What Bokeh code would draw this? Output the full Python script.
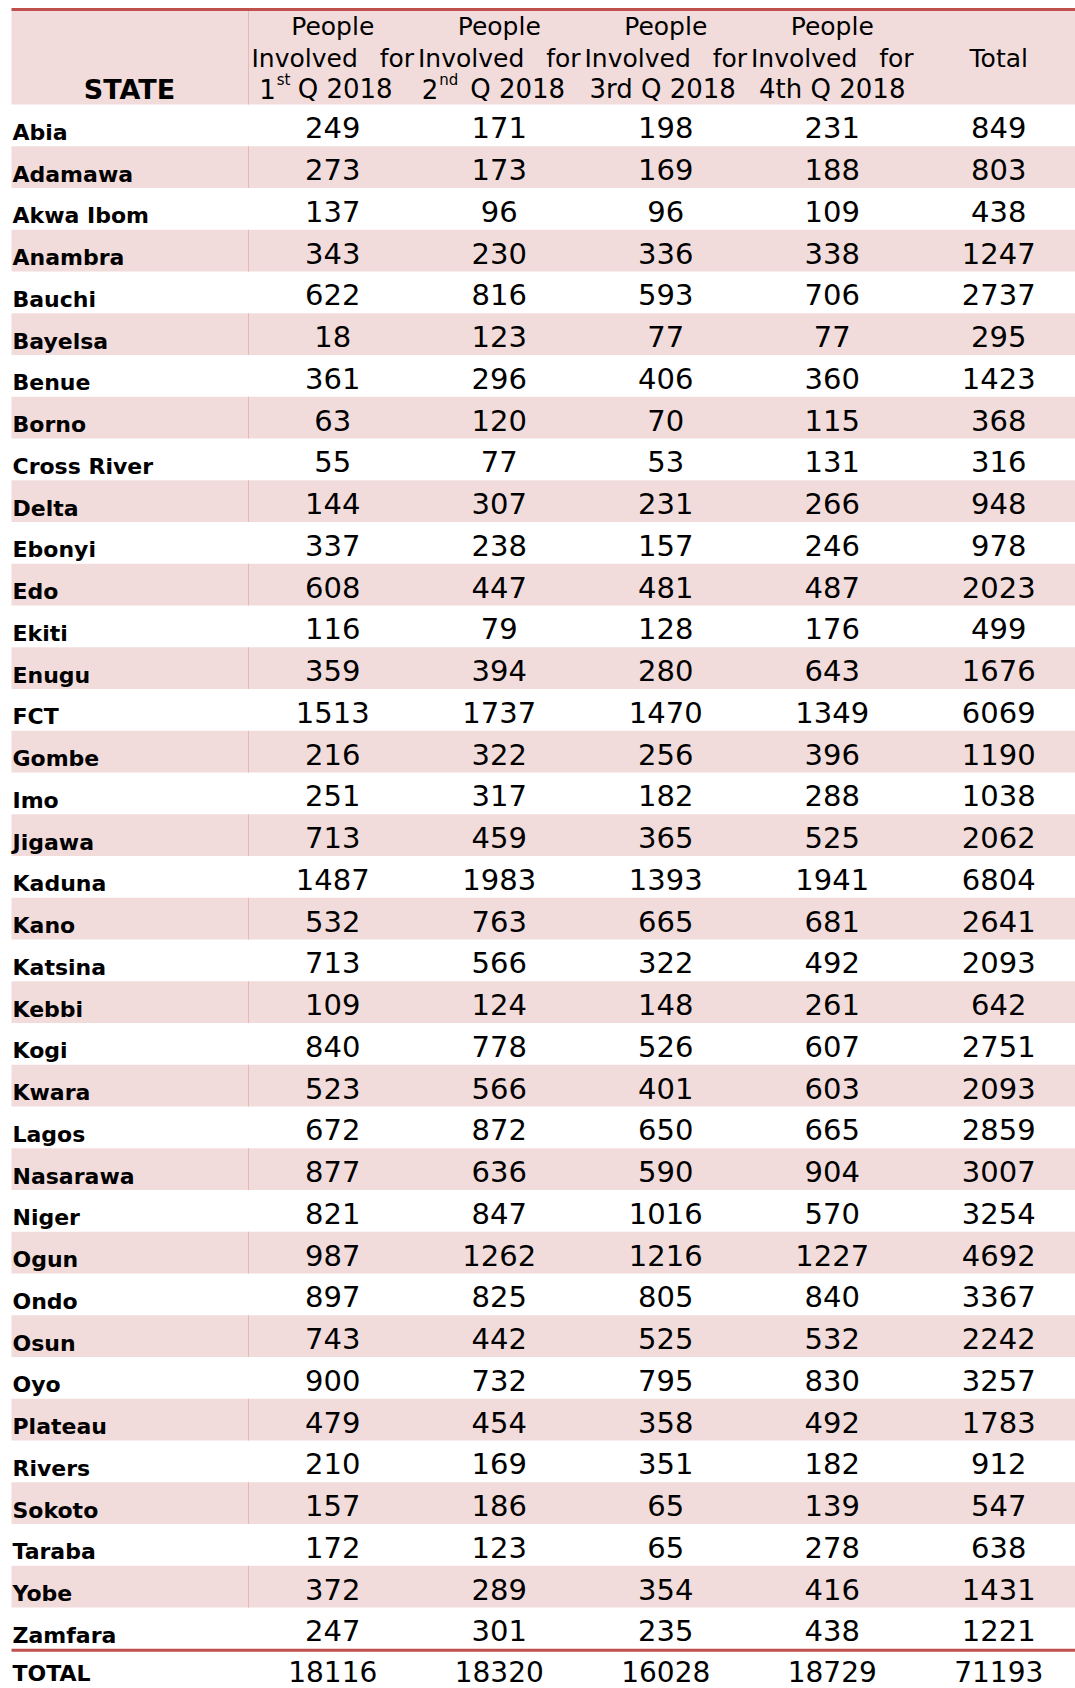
from bokeh.plotting import figure
from bokeh.models import Range1d
from bokeh.core.properties import value
from bokeh.embed import file_html
from bokeh.resources import INLINE

# ---------------- data ----------------
states = ["Abia", "Adamawa", "Akwa Ibom", "Anambra", "Bauchi", "Bayelsa", "Benue",
          "Borno", "Cross River", "Delta", "Ebonyi", "Edo", "Ekiti", "Enugu", "FCT",
          "Gombe", "Imo", "Jigawa", "Kaduna", "Kano", "Katsina", "Kebbi", "Kogi",
          "Kwara", "Lagos", "Nasarawa", "Niger", "Ogun", "Ondo", "Osun", "Oyo",
          "Plateau", "Rivers", "Sokoto", "Taraba", "Yobe", "Zamfara"]
q1 = [249, 273, 137, 343, 622, 18, 361, 63, 55, 144, 337, 608, 116, 359, 1513,
      216, 251, 713, 1487, 532, 713, 109, 840, 523, 672, 877, 821, 987, 897, 743,
      900, 479, 210, 157, 172, 372, 247]
q2 = [171, 173, 96, 230, 816, 123, 296, 120, 77, 307, 238, 447, 79, 394, 1737,
      322, 317, 459, 1983, 763, 566, 124, 778, 566, 872, 636, 847, 1262, 825, 442,
      732, 454, 169, 186, 123, 289, 301]
q3 = [198, 169, 96, 336, 593, 77, 406, 70, 53, 231, 157, 481, 128, 280, 1470,
      256, 182, 365, 1393, 665, 322, 148, 526, 401, 650, 590, 1016, 1216, 805, 525,
      795, 358, 351, 65, 65, 354, 235]
q4 = [231, 188, 109, 338, 706, 77, 360, 115, 131, 266, 246, 487, 176, 643, 1349,
      396, 288, 525, 1941, 681, 492, 261, 607, 603, 665, 904, 570, 1227, 840, 532,
      830, 492, 182, 139, 278, 416, 438]
totals = [849, 803, 438, 1247, 2737, 295, 1423, 368, 316, 948, 978, 2023, 499, 1676,
          6069, 1190, 1038, 2062, 6804, 2641, 2093, 642, 2751, 2093, 2859, 3007, 3254,
          4692, 3367, 2242, 3257, 1783, 912, 547, 638, 1431, 1221]
total_label = "TOTAL"
column_totals = [18116, 18320, 16028, 18729, 71193]

state_header = "STATE"
header_line1 = ["People", "People", "People", "People"]
header_line2_left = ["Involved", "Involved", "Involved", "Involved"]
header_line2_right = ["for", "for", "for", "for"]
total_header = "Total"
ordinal_num = ["1", "2"]
ordinal_sup = ["st", "nd"]
header_q = "Q 2018"
header_line3_plain = ["3rd  Q 2018", "4th Q 2018"]

# ---------------- styling / geometry ----------------
PINK = "#F2DCDB"
SEP = "#E6B8B7"
RED = "#C0504D"
FONT = "DejaVu Sans"
BOLD = "DejaVu Sans"

W, H = 1075, 1688
p = figure(width=W, height=H, x_range=Range1d(0, W), y_range=Range1d(H, 0),
           output_backend="svg", toolbar_location=None,
           x_axis_type=None, y_axis_type=None, min_border=0)
p.grid.visible = False
p.outline_line_color = None
p.background_fill_color = "white"
p.border_fill_color = "white"

left_edge, right_edge = 11, 1075
first_col_right = 248
n_cols = 5
col_w = 166.5
cell_left = [first_col_right + 1 + col_w * j for j in range(n_cols)]
centers = [c + col_w / 2 for c in cell_left]

head_top, head_bottom = 10, 104
rh = 41.75
n = len(states)
row_tops = [head_bottom + i * rh for i in range(n)]
row_bots = [t + rh for t in row_tops]

# header band
p.quad(left=[left_edge], right=[right_edge], top=[head_top], bottom=[head_bottom],
       fill_color=PINK, line_color=None)
# striped rows
pink_idx = [i for i in range(n) if i % 2 == 1]
p.quad(left=[left_edge] * len(pink_idx), right=[right_edge] * len(pink_idx),
       top=[row_tops[i] for i in pink_idx], bottom=[row_bots[i] for i in pink_idx],
       fill_color=PINK, line_color=None)
# first column separator inside pink bands
seg_y0 = [head_top] + [row_tops[i] for i in pink_idx]
seg_y1 = [head_bottom] + [row_bots[i] for i in pink_idx]
p.segment(x0=[first_col_right] * len(seg_y0), x1=[first_col_right] * len(seg_y0),
          y0=seg_y0, y1=seg_y1, line_color=SEP, line_width=1)

# red rules
p.segment(x0=[left_edge], x1=[right_edge], y0=[9], y1=[9], line_color=RED, line_width=3)
p.segment(x0=[left_edge], x1=[right_edge], y0=[row_bots[-1] + 1], y1=[row_bots[-1] + 1],
          line_color=RED, line_width=3)

# header text (text_baseline "middle": y is the visual centre of the line)
hs = "25px"
hs3 = "26px"
m1, m2, m3 = 26, 58, 88
p.text(x=[129], y=[m3 + 1], text=[state_header], text_align="center", text_baseline="middle",
       text_font=value(BOLD), text_font_style="bold", text_font_size="27px", text_color="black")
p.text(x=centers[:4], y=[m1] * 4, text=header_line1, text_align="center",
       text_baseline="middle", text_font=value(FONT), text_font_size=hs, text_color="black")
p.text(x=[c + 2 for c in cell_left[:4]], y=[m2] * 4, text=header_line2_left,
       text_align="left", text_baseline="middle", text_font=value(FONT),
       text_font_size=hs, text_color="black")
p.text(x=[c + col_w - 2 for c in cell_left[:4]], y=[m2] * 4,
       text=header_line2_right, text_align="right", text_baseline="middle",
       text_font=value(FONT), text_font_size=hs, text_color="black")
p.text(x=[centers[4]], y=[m2], text=[total_header], text_align="center",
       text_baseline="middle", text_font=value(FONT), text_font_size=hs, text_color="black")
# ordinals with superscripts
num_x = [centers[0] - 57, centers[1] - 61]
sup_x = [centers[0] - 56, centers[1] - 60]
q_x = [centers[0] - 35, centers[1] - 29]
p.text(x=num_x, y=[m3] * 2, text=ordinal_num, text_align="right", text_baseline="middle",
       text_font=value(FONT), text_font_size=hs3, text_color="black")
p.text(x=sup_x, y=[m3 - 9] * 2, text=ordinal_sup, text_align="left", text_baseline="middle",
       text_font=value(FONT), text_font_size="15px", text_color="black")
p.text(x=q_x, y=[m3] * 2, text=[header_q] * 2, text_align="left", text_baseline="middle",
       text_font=value(FONT), text_font_size=hs3, text_color="black")
p.text(x=[centers[2] + 1, centers[3]], y=[m3] * 2, text=header_line3_plain, text_align="center",
       text_baseline="middle", text_font=value(FONT), text_font_size=hs3, text_color="black")

# body
name_mid = [b - 14 for b in row_bots]
num_mid = [b - 18.5 for b in row_bots]
p.text(x=[12] * n, y=name_mid, text=states, text_align="left", text_baseline="middle",
       text_font=value(BOLD), text_font_style="bold", text_font_size="22px", text_color="black")
for j, series in enumerate([q1, q2, q3, q4, totals]):
    p.text(x=[centers[j]] * n, y=num_mid, text=[str(v) for v in series], text_align="center",
           text_baseline="middle", text_font=value(FONT), text_font_size="29px",
           text_color="black")

# total row (the original is cut by the page edge; kept just inside here)
tot_mid = H - 17
p.text(x=[12], y=[tot_mid + 2], text=[total_label], text_align="left", text_baseline="middle",
       text_font=value(BOLD), text_font_style="bold", text_font_size="22px", text_color="black")
p.text(x=centers, y=[tot_mid] * n_cols, text=[str(v) for v in column_totals],
       text_align="center", text_baseline="middle", text_font=value(FONT),
       text_font_size="28px", text_color="black")

open("out.html", "w").write(file_html(p, INLINE))
